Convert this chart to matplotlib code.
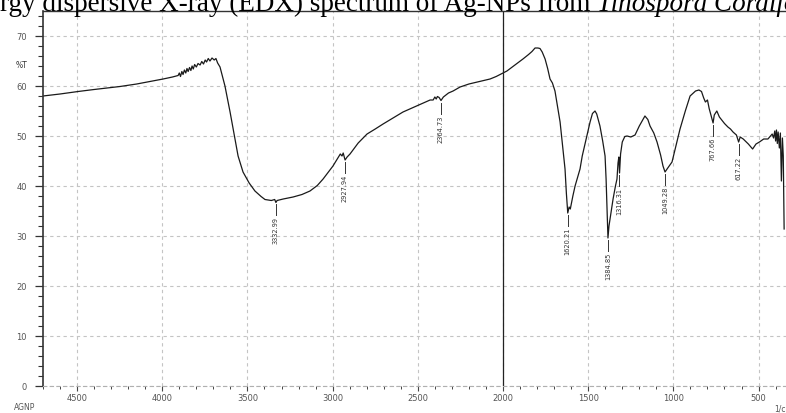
import matplotlib
matplotlib.use("Agg")
import matplotlib.pyplot as plt
from matplotlib.ticker import MultipleLocator

# FTIR spectrum of AGNP
wavenumber = [4700, 4600, 4494, 4400, 4248, 4150, 4072, 3995, 3940, 3907,
              3900, 3893, 3885, 3878, 3870, 3862, 3855, 3848, 3840, 3832,
              3825, 3818, 3810, 3800, 3790, 3778, 3768, 3758, 3748, 3740,
              3730, 3720, 3708, 3695, 3685, 3675, 3661, 3632, 3602, 3555,
              3526, 3490, 3456, 3420, 3397, 3360, 3340, 3333, 3326, 3290,
              3232, 3180, 3133, 3090, 3056, 3020, 2998, 2975, 2955, 2945,
              2938, 2927, 2915, 2898, 2850, 2798, 2750, 2704, 2650, 2587,
              2500, 2428, 2410, 2400, 2392, 2385, 2375, 2364, 2350, 2320,
              2293, 2252, 2200, 2150, 2076, 2040, 2000, 1977, 1930, 1883,
              1850, 1830, 1812, 1795, 1783, 1770, 1753, 1738, 1724, 1710,
              1695, 1665, 1636, 1628, 1620, 1612, 1605, 1590, 1577, 1560,
              1548, 1535, 1519, 1505, 1489, 1475, 1460, 1450, 1431, 1415,
              1401, 1395, 1390, 1384, 1378, 1365, 1354, 1340, 1331, 1325,
              1320, 1316, 1310, 1300, 1285, 1272, 1250, 1225, 1200, 1167,
              1150, 1137, 1115, 1096, 1075, 1061, 1049, 1035, 1008, 985,
              961, 930, 902, 870, 850, 835, 822, 812, 800, 790,
              767, 760, 745, 730, 700, 680, 665, 650, 630, 617,
              608, 590, 560, 535, 515, 495, 470, 445, 430, 420,
              412, 405, 400, 395, 390, 385, 378, 372, 366, 360,
              355, 350]
transmittance = [58.0, 58.4, 58.9, 59.3, 59.9, 60.4, 60.9, 61.4, 61.8, 62.1,
                 62.6, 61.9, 62.9, 62.3, 63.2, 62.6, 63.5, 62.9, 63.7, 63.1,
                 64.0, 63.4, 64.3, 63.8, 64.5, 64.2, 64.9, 64.4, 65.2, 64.8,
                 65.5, 65.0, 65.6, 65.2, 65.5, 64.6, 63.8, 60.0, 54.8, 46.0,
                 42.8, 40.6, 39.0, 37.9, 37.3, 37.1, 37.3, 36.7, 37.1, 37.4,
                 37.8, 38.3, 39.0, 40.1, 41.4, 43.0, 44.0, 45.3, 46.4, 46.0,
                 46.6, 45.2, 45.8, 46.4, 48.6, 50.4, 51.4, 52.4, 53.5, 54.8,
                 56.1, 57.2, 57.2, 57.8, 57.4, 57.9, 57.7, 57.1, 57.8, 58.6,
                 59.0, 59.8, 60.4, 60.8, 61.4, 61.9, 62.6, 63.0, 64.2, 65.4,
                 66.3, 66.9, 67.6, 67.6, 67.5, 66.8, 65.4, 63.5, 61.4, 60.6,
                 59.0, 52.8, 43.4, 38.5, 34.6, 35.8, 35.4, 38.0, 40.0, 42.0,
                 43.4, 46.0, 48.4, 50.6, 52.8, 54.5, 55.0, 54.4, 52.0, 49.0,
                 46.0, 41.4, 36.0, 29.6, 32.0, 35.0, 37.4, 40.0, 41.4, 44.6,
                 45.8, 42.6, 46.4, 48.8, 49.9, 50.0, 49.8, 50.2, 52.0, 54.0,
                 53.3, 52.0, 50.6, 48.8, 46.2, 44.0, 42.8, 43.5, 44.8, 48.0,
                 51.4, 55.0, 58.0, 59.0, 59.2, 58.9, 57.6, 56.8, 57.2, 55.5,
                 52.6, 54.2, 55.0, 53.8, 52.5, 51.8, 51.4, 50.8, 50.2, 48.8,
                 49.8, 49.4, 48.4, 47.4, 48.4, 48.8, 49.4, 49.4, 50.0, 50.4,
                 49.6, 51.0, 49.0, 51.2, 48.5, 50.8, 47.6, 50.6, 41.0, 49.6,
                 46.0, 31.4]

peak_labels = ["3332.99", "2927.94", "2364.73", "1620.21", "1384.85",
               "1316.31", "1049.28", "767.66", "617.22"]
peak_wn = [3332.99, 2927.94, 2364.73, 1620.21, 1384.85, 1316.31, 1049.28, 767.66, 617.22]
peak_t = [36.8, 45.2, 57.1, 34.6, 29.6, 42.6, 42.8, 52.6, 48.8]

W, H = 786, 414
fig = plt.figure(figsize=(W / 100, H / 100), dpi=100)
ax = fig.add_axes([43 / W, 27 / H, (W - 43) / W, 375 / H])

ax.plot(wavenumber, transmittance, color='#1a1a1a', lw=0.9)
ax.axvline(2000, color='#222222', lw=0.9)

for wn, t, lab in zip(peak_wn, peak_t, peak_labels):
    ax.plot([wn, wn], [t - 0.4, t - 2.6], color='#333333', lw=0.7)
    ax.text(wn, t - 2.8, lab, rotation=90, ha='center', va='top',
            fontsize=4.8, color='#333333')

ax.set_xlim(4700, 339)
ax.set_ylim(0, 75)
ax.xaxis.set_major_locator(MultipleLocator(500))
ax.xaxis.set_minor_locator(MultipleLocator(100))
ax.yaxis.set_major_locator(MultipleLocator(10))
ax.yaxis.set_minor_locator(MultipleLocator(2))
ax.set_xticks(range(4500, 400, -500))

ax.grid(True, which='major', linestyle=(0, (3, 3)), color='#c4c4c4', lw=0.8)
ax.set_axisbelow(True)

ax.tick_params(axis='y', which='major', direction='out', length=6, width=0.9,
               labelsize=6, pad=5.5, colors='#333333', labelcolor='#555555')
ax.tick_params(axis='y', which='minor', direction='out', length=3.5, width=0.8,
               colors='#333333')
ax.tick_params(axis='x', which='major', direction='out', length=3.5, width=0.8,
               labelsize=6, pad=1.5, colors='#444444', labelcolor='#555555')
ax.tick_params(axis='x', which='minor', direction='out', length=2, width=0.7,
               colors='#444444')

ax.spines['right'].set_visible(False)
ax.spines['left'].set_color('#333333')
ax.spines['left'].set_linewidth(1.2)
ax.spines['top'].set_color('#333333')
ax.spines['top'].set_linewidth(1.0)
ax.spines['bottom'].set_color('#b0b0b0')
ax.spines['bottom'].set_linestyle((0, (3, 3)))
ax.spines['bottom'].set_linewidth(0.8)

fig.text(22 / W, 1 - 65 / H, '%T', fontsize=5.5, ha='center', va='center', color='#333333')
fig.text(14 / W, 1 - 408 / H, 'AGNP', fontsize=5.5, ha='left', va='center', color='#555555')
fig.text(774 / W, 1 - 409 / H, '1/cm', fontsize=5.5, ha='left', va='center', color='#555555')

# caption cut off at the top of the picture, as in the source page
renderer = fig.canvas.get_renderer()
cap_font = dict(family='Liberation Serif', fontsize=19.5, va='baseline')
probe = fig.text(0, 0, 'Ene', **cap_font)
shift = probe.get_window_extent(renderer).width
probe.remove()
cap = fig.text(-shift / W, 1 - 11 / H, 'Energy dispersive X-ray (EDX) spectrum of Ag-NPs from ', **cap_font)
x_end = cap.get_window_extent(renderer).x1
fig.text(x_end / W, 1 - 11 / H, 'Tinospora Cordifolia', style='italic', **cap_font)

fig.savefig('out.png', dpi=100)
